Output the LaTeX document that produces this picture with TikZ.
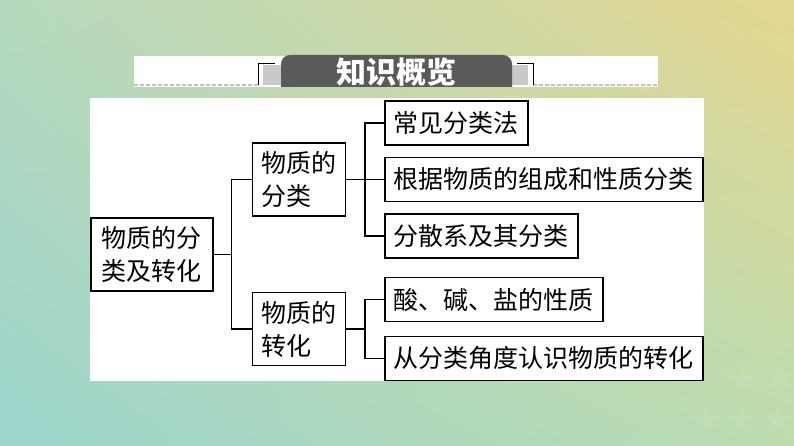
\documentclass[tikz,border=0pt]{standalone}
\usepackage{fontspec}
\setmainfont{Noto Sans CJK SC}
\usepackage{tikz}
\usetikzlibrary{positioning}
\usetikzlibrary{shapes.geometric}
\usetikzlibrary{shadings}

\definecolor{bgTL}{HTML}{B5D9BE}
\definecolor{bgTR}{HTML}{E4D68F}
\definecolor{bgBL}{HTML}{9DD5CD}
\definecolor{bgBR}{HTML}{BCDCB0}
\definecolor{titlegray}{HTML}{5A5A5A}
\definecolor{squaregray}{HTML}{C9C9C9}
\definecolor{dashgray}{HTML}{C2C2C2}

\begin{document}
\begin{tikzpicture}[x=1pt, y=1pt,
    box/.style={draw=black, line width=1.5pt, fill=white, align=left, inner ysep=0pt,
        font=\fontsize{25}{33}\selectfont},
    rootbox/.style={box, inner xsep=11pt, minimum height=73pt},
    midbox/.style={box, inner xsep=9pt, minimum height=73pt},
    leafbox/.style={box, inner xsep=9pt, minimum height=44pt},
    branch/.style={line width=1.5pt}]

    \shade [upper left=bgTL, upper right=bgTR, lower left=bgBL, lower right=bgBR] (0,0) rectangle (794,446);
    \useasboundingbox (0,0) rectangle (794,446);

    \foreach \sx/\sy [count=\i] in {743/66, 780/69, 705/26, 742/26, 778/26}
        \node [star, star points=5, star point ratio=2.3, fill=white, fill opacity=0.08,
            minimum size=26pt, inner sep=0pt] (st\i) at (\sx,\sy) {};

    % title strip
    \fill [white] (134,359) rectangle (658,390);
    \draw [dashgray, line width=2pt, dash pattern=on 4pt off 2pt] (134,361) -- (258,361);
    \draw [dashgray, line width=2pt, dash pattern=on 4pt off 2pt] (533,361) -- (658,361);
    \fill [squaregray] (263,361) rectangle (281,381);
    \fill [squaregray] (512,361) rectangle (528,381);
    \draw [line width=0.8pt] (275,383) -- (258,383) -- (258,361);
    \draw [line width=0.8pt] (517,383) -- (533,383) -- (533,361);
    \fill [titlegray] (281,359) -- (281,382) arc (180:90:9) -- (503,391) arc (90:0:9) -- (512,359) -- cycle;
    \node [text=white, font=\fontsize{30}{30}\selectfont\bfseries] (title) at (396.5,374) {知识概览};

    % panel
    \fill [white] (90,65) rectangle (704,348);

    \node [rootbox, anchor=west] (root) at (90,191.5) {物质的分\\类及转化};

    \node [midbox, right=38pt of root.east, yshift=75pt] (mid1) {物质的\\分类};
    \node [midbox, right=38pt of root.east, yshift=-74.5pt] (mid2) {物质的\\转化};

    \node [leafbox, right=38pt of mid1.east, yshift=56.5pt] (leaf1) {常见分类法};
    \node [leafbox, right=38pt of mid1.east] (leaf2) {根据物质的组成和性质分类};
    \node [leafbox, right=38pt of mid1.east, yshift=-56.5pt] (leaf3) {分散系及其分类};
    \node [leafbox, right=38pt of mid2.east, yshift=29.5pt] (leaf4) {酸、碱、盐的性质};
    \node [leafbox, right=38pt of mid2.east, yshift=-29.5pt] (leaf5) {从分类角度认识物质的转化};

    \draw [branch] (root.east) -- ++(18,0) |- (mid1.west);
    \draw [branch] (root.east) -- ++(18,0) |- (mid2.west);

    \draw [branch] (mid1.east) -- ++(19,0) |- (leaf1.west);
    \draw [branch] (mid1.east) -- (leaf2.west);
    \draw [branch] (mid1.east) -- ++(19,0) |- (leaf3.west);
    \draw [branch] (mid2.east) -- ++(19,0) |- (leaf4.west);
    \draw [branch] (mid2.east) -- ++(19,0) |- (leaf5.west);

\end{tikzpicture}
\end{document}
